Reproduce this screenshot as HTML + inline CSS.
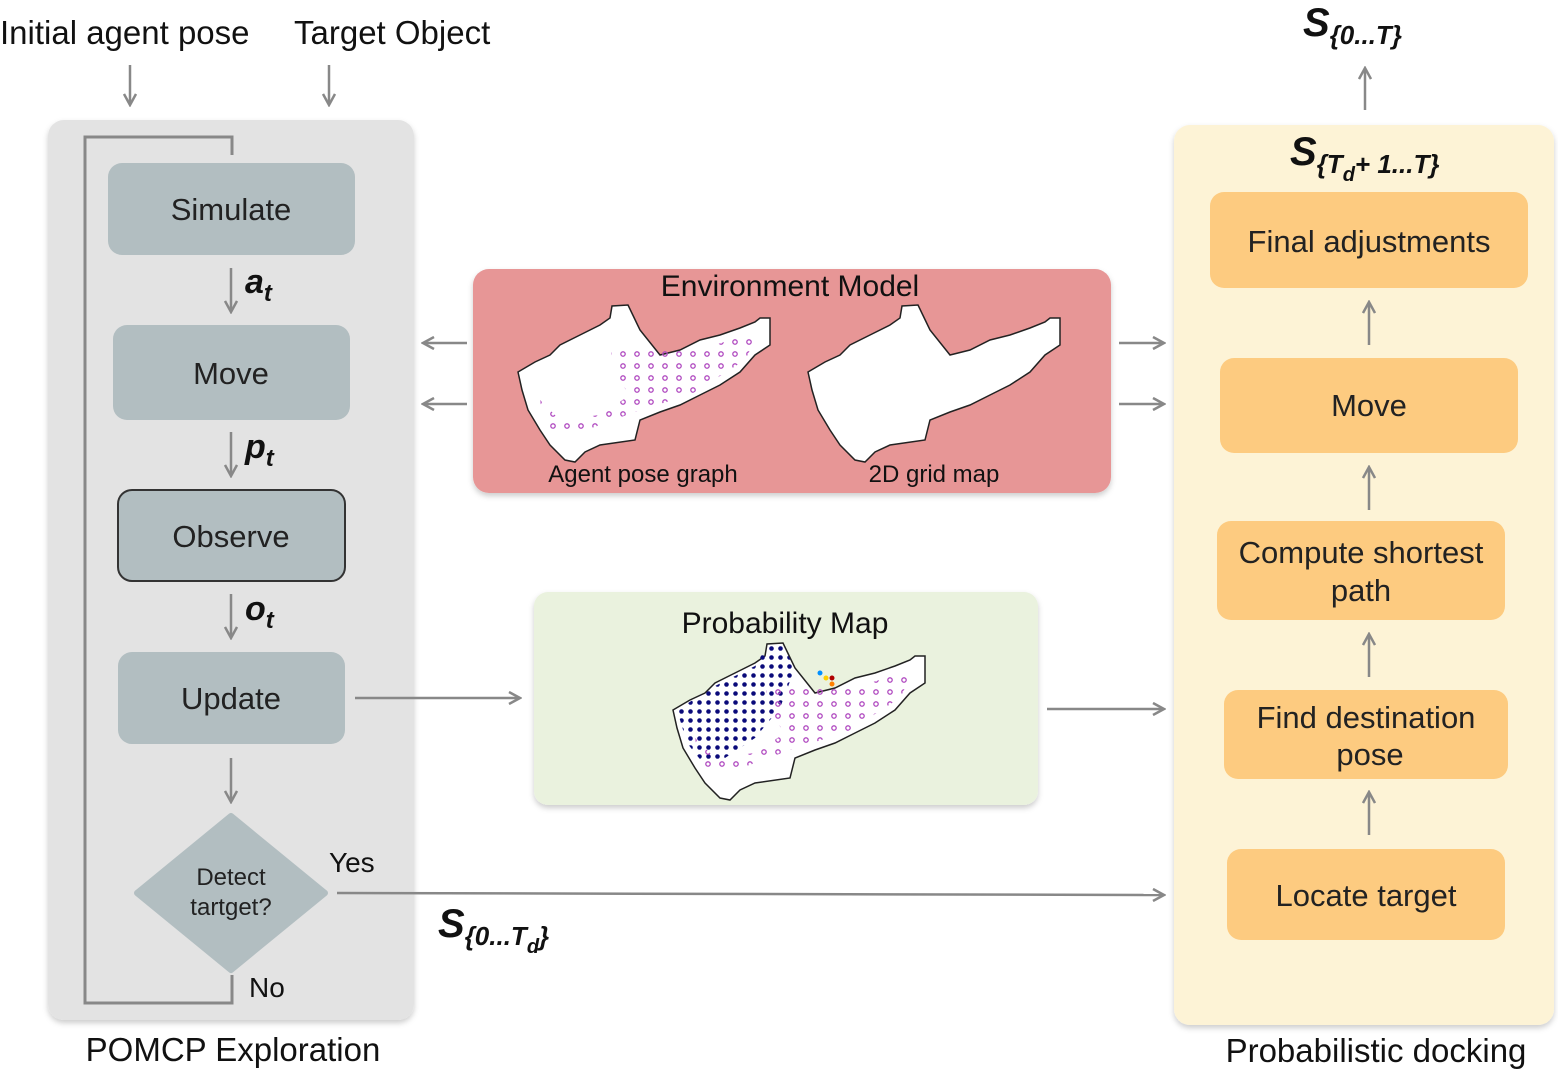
<!DOCTYPE html>
<html><head><meta charset="utf-8"><style>
html,body{margin:0;padding:0;background:#fff}
svg{display:block}
text{font-family:"Liberation Sans",sans-serif}
</style></head><body>
<svg width="1558" height="1079" viewBox="0 0 1558 1079" xmlns="http://www.w3.org/2000/svg">
<defs>
<marker id="ah" markerWidth="14" markerHeight="14" refX="12" refY="7" orient="auto" markerUnits="userSpaceOnUse">
<path d="M1,1 L12,7 L1,13" fill="none" stroke="#888" stroke-width="2.5"/></marker>
<filter id="sh" x="-5%" y="-5%" width="110%" height="115%"><feDropShadow dx="0" dy="3" stdDeviation="3" flood-color="#000" flood-opacity="0.2"/></filter>
<pattern id="dots" width="9" height="9" patternUnits="userSpaceOnUse"><circle cx="4.5" cy="4.5" r="2.3" fill="#0a0a7a"/></pattern>
<pattern id="rings" width="14" height="12" patternUnits="userSpaceOnUse"><circle cx="7" cy="6" r="2.2" fill="none" stroke="#b04ac0" stroke-width="1.3"/></pattern>
<path id="map" d="M518,372 L535,362 L550,355 L560,345 L580,335 L600,325 L610,318 L612,306 L628,305 L640,330 L660,355 L680,350 L700,340 L720,335 L740,328 L755,322 L760,318 L770,318 L770,345 L755,355 L740,372 L720,385 L700,395 L680,405 L660,412 L640,420 L635,440 L600,445 L585,452 L575,462 L565,460 L550,445 L540,430 L528,410 L522,390 Z"/>
</defs>

<text x="0" y="44" font-size="33" fill="#111">Initial agent pose</text>
<text x="294" y="44" font-size="33" fill="#111">Target Object</text>
<g stroke="#888" stroke-width="2.5" fill="none">
<line x1="130" y1="65" x2="130" y2="105" marker-end="url(#ah)"/>
<line x1="329" y1="65" x2="329" y2="105" marker-end="url(#ah)"/>
</g>

<rect x="48" y="120" width="366" height="900" rx="16" fill="#e3e3e3" filter="url(#sh)"/>
<polyline points="232,155 232,137 85,137 85,1003 232,1003 232,975" fill="none" stroke="#888" stroke-width="3"/>
<rect x="108" y="163" width="247" height="92" rx="14" fill="#b2bec1"/>
<text x="231" y="220" font-size="31" text-anchor="middle" fill="#222">Simulate</text>
<rect x="113" y="325" width="237" height="95" rx="14" fill="#b2bec1"/>
<text x="231" y="384" font-size="31" text-anchor="middle" fill="#222">Move</text>
<rect x="118" y="490" width="227" height="91" rx="14" fill="#b2bec1" stroke="#333" stroke-width="2"/>
<text x="231" y="547" font-size="31" text-anchor="middle" fill="#222">Observe</text>
<rect x="118" y="652" width="227" height="92" rx="14" fill="#b2bec1"/>
<text x="231" y="709" font-size="31" text-anchor="middle" fill="#222">Update</text>
<path d="M231,816 L325,893 L231,970 L137,893 Z" fill="#b2bec1" stroke="#b2bec1" stroke-width="6" stroke-linejoin="round"/>
<text x="231" y="885" font-size="24" text-anchor="middle" fill="#222">Detect</text>
<text x="231" y="915" font-size="24" text-anchor="middle" fill="#222">tartget?</text>
<g stroke="#888" stroke-width="2.5" fill="none">
<line x1="231" y1="268" x2="231" y2="312" marker-end="url(#ah)"/>
<line x1="231" y1="432" x2="231" y2="476" marker-end="url(#ah)"/>
<line x1="231" y1="594" x2="231" y2="638" marker-end="url(#ah)"/>
<line x1="231" y1="758" x2="231" y2="802" marker-end="url(#ah)"/>
</g>
<text x="245" y="293" font-size="34" font-weight="bold" font-style="italic" fill="#111">a<tspan font-size="24" dy="8">t</tspan></text>
<text x="245" y="458" font-size="34" font-weight="bold" font-style="italic" fill="#111">p<tspan font-size="24" dy="8">t</tspan></text>
<text x="245" y="620" font-size="34" font-weight="bold" font-style="italic" fill="#111">o<tspan font-size="24" dy="8">t</tspan></text>
<text x="329" y="872" font-size="28" fill="#111">Yes</text>
<text x="249" y="997" font-size="28" fill="#111">No</text>
<text x="233" y="1061" font-size="33" text-anchor="middle" fill="#111">POMCP Exploration</text>

<rect x="473" y="269" width="638" height="224" rx="16" fill="#e79696" filter="url(#sh)"/>
<text x="790" y="296" font-size="30" text-anchor="middle" fill="#111">Environment Model</text>
<use href="#map" fill="#fff" stroke="#222" stroke-width="1.5"/>
<path d="M610,345 L660,345 L700,350 L760,330 L745,360 L690,395 L640,410 L600,425 L580,432 L545,428 L540,400 L560,420 L600,415 L630,395 L615,375 Z" fill="url(#rings)"/>
<use href="#map" transform="translate(290,0)" fill="#fff" stroke="#222" stroke-width="1.5"/>
<text x="643" y="482" font-size="24" text-anchor="middle" fill="#111">Agent pose graph</text>
<text x="934" y="482" font-size="24" text-anchor="middle" fill="#111">2D grid map</text>

<rect x="534" y="592" width="504" height="213" rx="14" fill="#eaf2de" filter="url(#sh)"/>
<text x="785" y="633" font-size="30" text-anchor="middle" fill="#111">Probability Map</text>
<g transform="translate(673,643) translate(-518,-305)">
<use href="#map" fill="#fff" stroke="#222" stroke-width="1.5"/>
<path d="M522,372 L560,348 L600,328 L612,308 L628,308 L640,330 L625,370 L600,400 L570,420 L548,425 L532,405 Z" fill="url(#dots)"/>
<path d="M610,345 L660,345 L700,350 L760,330 L745,360 L690,395 L640,410 L600,425 L580,432 L545,428 L540,400 L560,420 L600,415 L630,395 L615,375 Z" fill="url(#rings)"/>
<circle cx="665" cy="335" r="2.5" fill="#0090ff"/><circle cx="671" cy="340" r="2.5" fill="#ffd000"/><circle cx="677" cy="340" r="2.5" fill="#b00000"/><circle cx="677" cy="346" r="2.5" fill="#ff8000"/>
</g>

<rect x="1174" y="125" width="380" height="900" rx="16" fill="#fdf3d6" filter="url(#sh)"/>
<text x="1290" y="165" font-size="40" font-weight="bold" font-style="italic" fill="#111">S<tspan font-size="26" dy="8">{T</tspan><tspan font-size="20" dy="8">d</tspan><tspan font-size="26" dy="-8">+ 1...T}</tspan></text>
<g fill="#fdcb80">
<rect x="1210" y="192" width="318" height="96" rx="14"/>
<rect x="1220" y="358" width="298" height="95" rx="14"/>
<rect x="1217" y="521" width="288" height="99" rx="14"/>
<rect x="1224" y="690" width="284" height="89" rx="14"/>
<rect x="1227" y="849" width="278" height="91" rx="14"/>
</g>
<g font-size="31" text-anchor="middle" fill="#222">
<text x="1369" y="252">Final adjustments</text>
<text x="1369" y="416">Move</text>
<text x="1361" y="563">Compute shortest</text>
<text x="1361" y="601">path</text>
<text x="1366" y="728">Find destination</text>
<text x="1370" y="765">pose</text>
<text x="1366" y="906">Locate target</text>
</g>
<g stroke="#888" stroke-width="2.5" fill="none">
<line x1="1369" y1="345" x2="1369" y2="302" marker-end="url(#ah)"/>
<line x1="1369" y1="510" x2="1369" y2="467" marker-end="url(#ah)"/>
<line x1="1369" y1="677" x2="1369" y2="634" marker-end="url(#ah)"/>
<line x1="1369" y1="835" x2="1369" y2="792" marker-end="url(#ah)"/>
<line x1="1365" y1="110" x2="1365" y2="68" marker-end="url(#ah)"/>
<line x1="467" y1="343" x2="423" y2="343" marker-end="url(#ah)"/>
<line x1="467" y1="404" x2="423" y2="404" marker-end="url(#ah)"/>
<line x1="1119" y1="343" x2="1164" y2="343" marker-end="url(#ah)"/>
<line x1="1119" y1="404" x2="1164" y2="404" marker-end="url(#ah)"/>
<line x1="355" y1="698" x2="520" y2="698" marker-end="url(#ah)"/>
<line x1="1047" y1="709" x2="1164" y2="709" marker-end="url(#ah)"/>
<line x1="337" y1="893" x2="1164" y2="895" marker-end="url(#ah)"/>
</g>
<text x="1303" y="36" font-size="40" font-weight="bold" font-style="italic" fill="#111">S<tspan font-size="26" dy="8">{0...T}</tspan></text>
<text x="438" y="937" font-size="40" font-weight="bold" font-style="italic" fill="#111">S<tspan font-size="26" dy="8">{0...T</tspan><tspan font-size="20" dy="8">d</tspan><tspan font-size="26" dy="-8">}</tspan></text>
<text x="1376" y="1062" font-size="33" text-anchor="middle" fill="#111">Probabilistic docking</text>
</svg>
</body></html>
